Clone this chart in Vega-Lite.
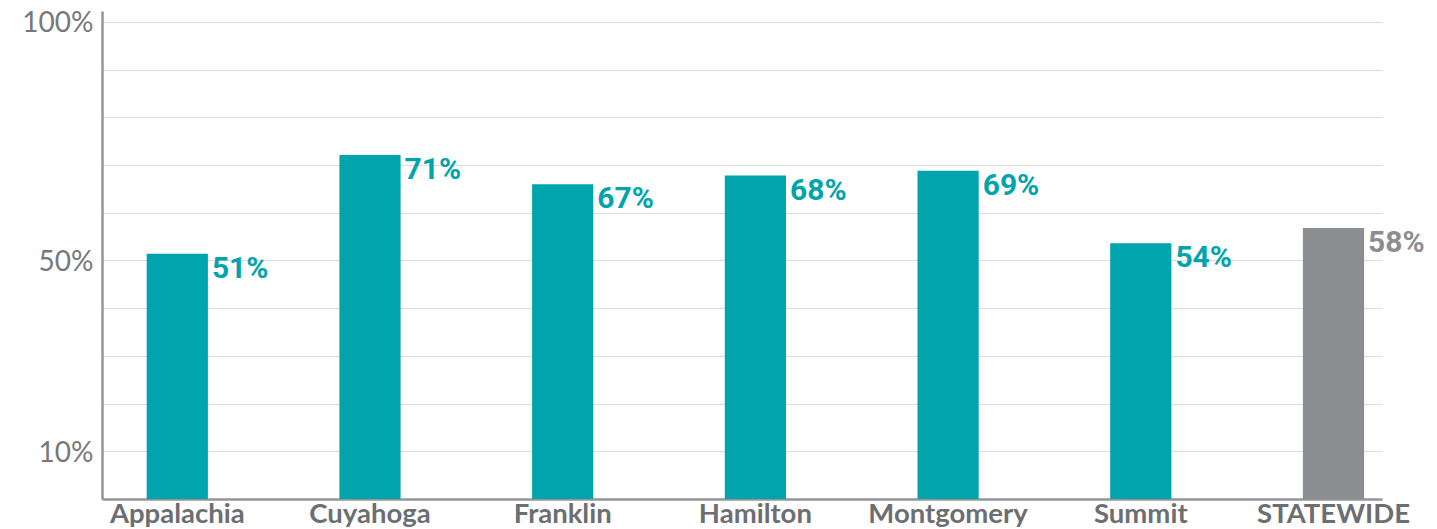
{
  "$schema": "https://vega.github.io/schema/vega-lite/v6.json",
  "autosize": {"type": "none"},
  "padding": {"left": 102, "top": 11, "right": 55, "bottom": 30},
  "width": 1280,
  "height": 488,
  "background": "#ffffff",
  "config": {"view": {"stroke": null}},
  "data": {
    "values": [
      {"region": "Appalachia", "value": 51.4, "label": "51%", "group": "county"},
      {"region": "Cuyahoga", "value": 72.1, "label": "71%", "group": "county"},
      {"region": "Franklin", "value": 66.0, "label": "67%", "group": "county"},
      {"region": "Hamilton", "value": 67.8, "label": "68%", "group": "county"},
      {"region": "Montgomery", "value": 68.8, "label": "69%", "group": "county"},
      {"region": "Summit", "value": 53.6, "label": "54%", "group": "county"},
      {"region": "STATEWIDE", "value": 56.8, "label": "58%", "group": "state"}
    ]
  },
  "encoding": {
    "x": {
      "field": "region",
      "type": "nominal",
      "sort": null,
      "scale": {"paddingInner": 0.6824, "paddingOuter": 0.1624, "align": 0.714},
      "axis": {
        "title": null,
        "labelAngle": 0,
        "ticks": false,
        "domainColor": "#939598",
        "domainWidth": 2.5,
        "labelFont": "Lato",
        "labelFontWeight": "bold",
        "labelFontSize": 27.5,
        "labelColor": "#6d6e71",
        "labelPadding": 1,
        "labelBaseline": "top"
      }
    },
    "y": {
      "field": "value",
      "type": "quantitative",
      "scale": {"domain": [0, 102.3], "nice": false, "zero": true},
      "axis": {
        "title": null,
        "values": [10, 20, 30, 40, 50, 60, 70, 80, 90, 100],
        "labelExpr": "(datum.value == 10 || datum.value == 50 || datum.value == 100) ? datum.value + '%' : ''",
        "ticks": false,
        "grid": true,
        "gridColor": "#dcdcdc",
        "gridWidth": 1,
        "domainColor": "#939598",
        "domainWidth": 2.5,
        "labelFont": "Lato",
        "labelFontWeight": "normal",
        "labelFontSize": 28,
        "labelColor": "#77787b",
        "labelPadding": 9,
        "labelOffset": 2
      }
    },
    "color": {
      "field": "group",
      "type": "nominal",
      "scale": {"domain": ["county", "state"], "range": ["#00A4AC", "#8C8D90"]},
      "legend": null
    }
  },
  "layer": [
    {"mark": {"type": "bar"}},
    {
      "mark": {
        "type": "text",
        "align": "left",
        "baseline": "top",
        "dx": 4,
        "dy": 0,
        "font": "Roboto",
        "fontWeight": "bold",
        "fontSize": 30
      },
      "encoding": {
        "x": {"field": "region", "type": "nominal", "sort": null, "bandPosition": 1},
        "text": {"field": "label"}
      }
    }
  ]
}
